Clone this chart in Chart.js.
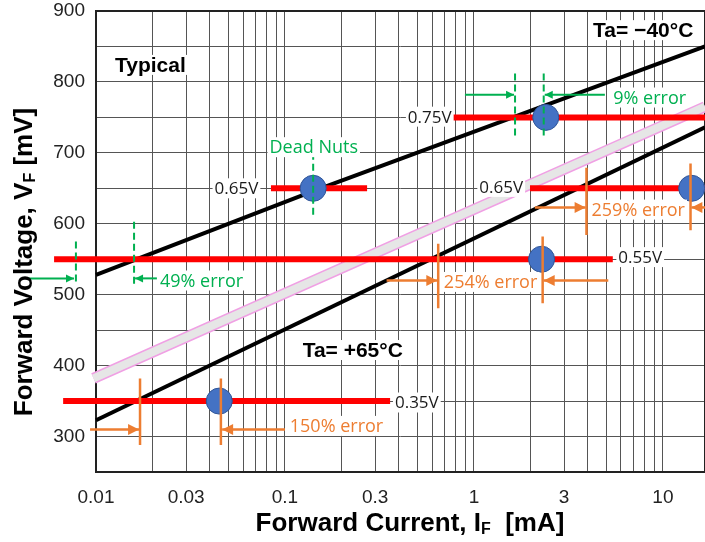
<!DOCTYPE html>
<html>
<head>
<meta charset="utf-8">
<script src="https://cdn.jsdelivr.net/npm/chart.js@4.4.1/dist/chart.umd.min.js"></script>
<style>
  html, body { margin: 0; padding: 0; background: #fff; }
  canvas { display: block; }
</style>
</head>
<body>
<canvas id="vfChart" width="705" height="542"></canvas>
<script>
// ---- values (x: forward current mA, y: forward voltage mV) ----
const xTickValues = [0.01, 0.02, 0.03, 0.04, 0.05, 0.06, 0.07, 0.08, 0.09,
                     0.1, 0.2, 0.3, 0.4, 0.5, 0.6, 0.7, 0.8, 0.9,
                     1, 2, 3, 4, 5, 6, 7, 8, 9, 10];
const xLabelled = [0.01, 0.03, 0.1, 0.3, 1, 3, 10];

const curveMinus40 = [{x: 0.01, y: 528}, {x: 0.141, y: 646}, {x: 16.7, y: 850}];
const curvePlus65 = [{x: 0.01, y: 323}, {x: 16.7, y: 736}];
const curveTypical = [{x: 0.0097, y: 382}, {x: 16.7, y: 765}];

const level075 = [{x: 0.775, y: 750}, {x: 20, y: 750}];
const level065a = [{x: 0.0843, y: 650}, {x: 0.272, y: 650}];
const level065b = [{x: 1.98, y: 650}, {x: 20, y: 650}];
const level055 = [{x: 0.0060, y: 550}, {x: 5.43, y: 550}];
const level035 = [{x: 0.0067, y: 350}, {x: 0.36, y: 350}];

const measured = [
  {x: 0.00783, y: 550}, {x: 0.141, y: 650}, {x: 2.40, y: 750},
  {x: 2.28, y: 550}, {x: 14.2, y: 650}, {x: 0.0449, y: 350}
];

const greenMarks = [
  [{x: 0.141, y: 700}, {x: 0.141, y: 608}],
  [{x: 1.65, y: 812}, {x: 1.65, y: 723}],
  [{x: 2.34, y: 812}, {x: 2.34, y: 723}],
  [{x: 0.00783, y: 575}, {x: 0.00783, y: 514}],
  [{x: 0.0159, y: 603}, {x: 0.0159, y: 514}]
];
const greenArrows = [
  [{x: 0.896, y: 782}, {x: 1.63, y: 782}],
  [{x: 4.93, y: 782}, {x: 2.37, y: 782}],
  [{x: 0.00437, y: 523}, {x: 0.00765, y: 523}],
  [{x: 0.0210, y: 523}, {x: 0.0161, y: 523}]
];
const orangeMarks = [
  [{x: 3.94, y: 679}, {x: 3.94, y: 584}],
  [{x: 14.0, y: 685}, {x: 14.0, y: 591}],
  [{x: 0.647, y: 572}, {x: 0.647, y: 481}],
  [{x: 2.31, y: 582}, {x: 2.31, y: 488}],
  [{x: 0.0171, y: 382}, {x: 0.0171, y: 288}],
  [{x: 0.0458, y: 382}, {x: 0.0458, y: 288}]
];
const orangeArrows = [
  [{x: 2.10, y: 623}, {x: 3.90, y: 623}],
  [{x: 20, y: 623}, {x: 14.15, y: 623}],
  [{x: 0.345, y: 520}, {x: 0.64, y: 520}],
  [{x: 5.14, y: 520}, {x: 2.34, y: 520}],
  [{x: 0.0093, y: 310}, {x: 0.0169, y: 310}],
  [{x: 0.100, y: 310}, {x: 0.0465, y: 310}]
];

// labels anchored at data values
const voltLabels = [
  {text: '0.75V', x: 0.762, y: 751, align: 'right'},
  {text: '0.65V', x: 0.0723, y: 650, align: 'right'},
  {text: '0.65V', x: 1.82, y: 652, align: 'right'},
  {text: '0.55V', x: 5.81, y: 553, align: 'left'},
  {text: '0.35V', x: 0.382, y: 348, align: 'left'}
];
const greenNotes = [
  {text: '9% error', x: 5.46, y: 778, align: 'left'},
  {text: '49% error', x: 0.0218, y: 520, align: 'left'},
  {text: 'Dead Nuts', x: 0.142, y: 708, align: 'center'}
];
const orangeNotes = [
  {text: '259% error', x: 4.19, y: 620, align: 'left'},
  {text: '254% error', x: 0.693, y: 518, align: 'left'},
  {text: '150% error', x: 0.106, y: 315, align: 'left'}
];
const boldNotes = [
  {text: 'Typical', x: 0.0126, y: 824, align: 'left'},
  {text: 'Ta= \u221240\u00b0C', x: 4.27, y: 873, align: 'left'},
  {text: 'Ta= +65\u00b0C', x: 0.124, y: 422, align: 'left'}
];

const yTitleParts = [{text: 'Forward Voltage, V', size: 26}, {text: 'F', size: 16, dy: 3}, {text: ' [mV]', size: 26}];
const xTitleParts = [{text: 'Forward Current, I', size: 26}, {text: 'F', size: 16, dy: 3}, {text: '  [mA]', size: 26}];

const GREEN = '#00b050';
const ORANGE = '#ed7d31';
const RED = '#ff0000';
const ARIAL = '"Liberation Sans", Arial, sans-serif';
const CALIBRI = '"Open Sans", "Noto Sans", sans-serif';

const ctx = document.getElementById('vfChart').getContext('2d');

function lineDs(data, color, width, extra) {
  return Object.assign({
    data: data,
    showLine: true,
    borderColor: color,
    backgroundColor: color,
    borderWidth: width,
    pointRadius: 0,
    pointHoverRadius: 0,
    fill: false,
    tension: 0,
    clip: false
  }, extra || {});
}

// chart area frame
const framePlugin = {
  id: 'frame',
  beforeDatasetsDraw(chart) {
    const {ctx, chartArea: {left, top, right, bottom}} = chart;
    ctx.save();
    ctx.strokeStyle = '#222';
    ctx.lineWidth = 2;
    ctx.strokeRect(left, top, right - left, bottom - top);
    ctx.restore();
  }
};

// arrow heads at the last point of datasets flagged with arrow
const arrowPlugin = {
  id: 'arrowHeads',
  afterDatasetsDraw(chart) {
    const {ctx} = chart;
    chart.data.datasets.forEach((ds, i) => {
      if (!ds.arrow) return;
      const pts = chart.getDatasetMeta(i).data;
      const p1 = pts[pts.length - 1];
      const p0 = pts[pts.length - 2];
      const a = Math.atan2(p1.y - p0.y, p1.x - p0.x);
      const len = ds.arrow, half = ds.arrow * 0.5;
      ctx.save();
      ctx.translate(p1.x, p1.y);
      ctx.rotate(a);
      ctx.fillStyle = ds.borderColor;
      ctx.beginPath();
      ctx.moveTo(0, 0);
      ctx.lineTo(-len, -half);
      ctx.lineTo(-len, half);
      ctx.closePath();
      ctx.fill();
      ctx.restore();
    });
  }
};

// text notes with white background
function drawNotes(chart, notes, font, color) {
  const {ctx, scales: {x, y}} = chart;
  ctx.save();
  ctx.font = font;
  ctx.textBaseline = 'middle';
  notes.forEach(n => {
    const px = x.getPixelForValue(n.x);
    const py = y.getPixelForValue(n.y);
    const w = ctx.measureText(n.text).width;
    let left = px;
    if (n.align === 'right') left = px - w;
    if (n.align === 'center') left = px - w / 2;
    ctx.fillStyle = '#fff';
    ctx.fillRect(left - 2, py - 10, w + 4, 20);
    ctx.fillStyle = color;
    ctx.textAlign = 'left';
    ctx.fillText(n.text, left, py + 1);
  });
  ctx.restore();
}

const notesPlugin = {
  id: 'notes',
  afterDatasetsDraw(chart) {
    drawNotes(chart, voltLabels, '17px ' + CALIBRI, '#1a1a1a');
    drawNotes(chart, greenNotes, '18px ' + CALIBRI, GREEN);
    drawNotes(chart, orangeNotes, '18px ' + CALIBRI, ORANGE);
    drawNotes(chart, boldNotes, 'bold 21px ' + ARIAL, '#000');
  }
};

function drawRich(ctx, parts, cx, cy, angle) {
  ctx.save();
  ctx.translate(cx, cy);
  ctx.rotate(angle);
  ctx.textBaseline = 'alphabetic';
  ctx.textAlign = 'left';
  ctx.fillStyle = '#000';
  let total = 0;
  parts.forEach(p => {
    ctx.font = 'bold ' + p.size + 'px ' + ARIAL;
    p.w = ctx.measureText(p.text).width;
    total += p.w;
  });
  let pos = -total / 2;
  parts.forEach(p => {
    ctx.font = 'bold ' + p.size + 'px ' + ARIAL;
    ctx.fillText(p.text, pos, 9 + (p.dy || 0));
    pos += p.w;
  });
  ctx.restore();
}

const axisTitlePlugin = {
  id: 'axisTitles',
  afterDraw(chart) {
    drawRich(chart.ctx, yTitleParts, 23, 262, -Math.PI / 2);
    drawRich(chart.ctx, xTitleParts, 410, 522, 0);
  }
};

const datasets = [];
greenArrows.forEach(d => datasets.push(lineDs(d, GREEN, 2, {arrow: 8})));
orangeArrows.forEach(d => datasets.push(lineDs(d, ORANGE, 2.5, {arrow: 11})));
greenMarks.forEach(d => datasets.push(lineDs(d, GREEN, 2, {borderDash: [7, 4]})));
orangeMarks.forEach(d => datasets.push(lineDs(d, ORANGE, 2.5)));
datasets.push({
  data: measured,
  pointRadius: 13,
  pointHoverRadius: 13,
  pointBackgroundColor: '#4472c4',
  pointBorderColor: '#2f5597',
  pointBorderWidth: 1,
  showLine: false,
  clip: false
});
[level075, level065a, level065b, level055, level035].forEach(d => datasets.push(lineDs(d, RED, 6)));
datasets.push(lineDs(curveMinus40, '#000', 4));
datasets.push(lineDs(curvePlus65, '#000', 4));
datasets.push(lineDs(curveTypical, '#e6e6e6', 8));
datasets.push(lineDs(curveTypical, '#f0a0e4', 11));

new Chart(ctx, {
  type: 'scatter',
  data: {datasets: datasets},
  options: {
    responsive: false,
    animation: false,
    events: [],
    devicePixelRatio: 1,
    layout: {autoPadding: false, padding: {top: 11, left: 0, right: 0, bottom: 0}},
    plugins: {
      legend: {display: false},
      tooltip: {enabled: false},
      title: {display: false}
    },
    scales: {
      x: {
        type: 'logarithmic',
        min: 0.01,
        max: 16.7,
        afterBuildTicks: (scale) => {
          scale.ticks = xTickValues.map(v => ({value: v}));
        },
        afterFit: (scale) => {
          scale.height = 70;
          scale.paddingLeft = 0;
          scale.paddingRight = 0;
        },
        border: {display: false},
        grid: {color: '#555', lineWidth: 1, drawTicks: false},
        ticks: {
          autoSkip: false,
          maxRotation: 0,
          minRotation: 0,
          padding: 14,
          color: '#222',
          font: {family: ARIAL, size: 19},
          callback: (v) => xLabelled.includes(v) ? String(v) : ''
        }
      },
      y: {
        type: 'linear',
        min: 250,
        max: 900,
        afterFit: (scale) => {
          scale.width = 96;
          scale.paddingTop = 0;
          scale.paddingBottom = 0;
        },
        border: {display: false},
        grid: {color: '#555', lineWidth: 1, drawTicks: false},
        ticks: {
          stepSize: 50,
          padding: 11,
          color: '#222',
          font: {family: ARIAL, size: 19},
          callback: (v) => (v % 100 === 0 && v >= 300) ? String(v) : ''
        }
      }
    }
  },
  plugins: [framePlugin, arrowPlugin, notesPlugin, axisTitlePlugin]
});
</script>
</body>
</html>
